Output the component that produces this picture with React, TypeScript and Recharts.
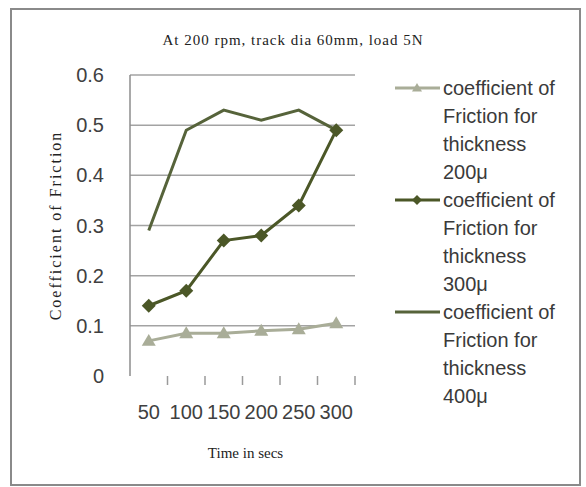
import React from 'react';
import { LineChart, Line, XAxis, YAxis, CartesianGrid, Legend, Label } from 'recharts';

const times = ['50', '100', '150', '200', '250', '300'];
const cof200 = [0.07, 0.085, 0.085, 0.09, 0.093, 0.105];
const cof300 = [0.14, 0.17, 0.27, 0.28, 0.34, 0.49];
const cof400 = [0.29, 0.49, 0.53, 0.51, 0.53, 0.49];
const yTicks = [0, 0.1, 0.2, 0.3, 0.4, 0.5, 0.6];
const gridValues = [0.1, 0.2, 0.3, 0.4, 0.5, 0.6];

const series = [
  { key: 'c200', name: 'coefficient of Friction for thickness 200μ', color: '#a9ad98', marker: 'triangle' },
  { key: 'c300', name: 'coefficient of Friction for thickness 300μ', color: '#4b5727', marker: 'diamond' },
  { key: 'c400', name: 'coefficient of Friction for thickness 400μ', color: '#56633a', marker: 'none' },
];

const data = times.map((t, i) => ({ time: t, c200: cof200[i], c300: cof300[i], c400: cof400[i] }));

const sans = '"Liberation Sans", Arial, sans-serif';
const serif = '"Liberation Serif", "Times New Roman", serif';

const TICK_SIZE = 9;
const TICK_MARGIN = 20;

const Marker = ({ cx, cy, type, color, r = 7 }: any) => {
  if (cx == null || cy == null) return null;
  if (type === 'triangle')
    return <polygon points={`${cx},${cy - r} ${cx + r},${cy + r * 0.7} ${cx - r},${cy + r * 0.7}`} fill={color} />;
  if (type === 'diamond')
    return <polygon points={`${cx},${cy - r} ${cx + r},${cy} ${cx},${cy + r} ${cx - r},${cy}`} fill={color} />;
  return null;
};

// excel style: label in the middle of the category, tick marks on the category boundaries
const CategoryTick = (props: any) => {
  const { x, y, payload, index, visibleTicksCount, width } = props;
  const half = Number(width) / visibleTicksCount / 2;
  const top = y - TICK_SIZE - TICK_MARGIN;
  const mark = (mx: number) => (
    <line x1={mx} y1={top} x2={mx} y2={top + TICK_SIZE} stroke="#9a9a9a" strokeWidth={1.5} />
  );
  return (
    <g>
      {index > 0 && mark(x - half)}
      {index === visibleTicksCount - 1 && mark(x + half)}
      <text x={x} y={y} dy={14} textAnchor="middle" fill="#404040" fontSize={20} fontFamily={sans}>
        {payload.value}
      </text>
    </g>
  );
};

const LegendBox = () => (
  <div style={{ fontFamily: sans, fontSize: 20, color: '#3a3a3a', lineHeight: '28px' }}>
    {series.map((s) => (
      <div key={s.key} style={{ display: 'flex', alignItems: 'flex-start' }}>
        <svg width={48} height={28} style={{ flex: 'none' }}>
          <line x1={0} y1={14} x2={45} y2={14} stroke={s.color} strokeWidth={3} />
          <Marker cx={22} cy={14} type={s.marker} color={s.color} r={5} />
        </svg>
        <div style={{ width: 130 }}>{s.name}</div>
      </div>
    ))}
  </div>
);

const YTitle = (props: any) => {
  const vb = props.viewBox || {};
  const cx = 55;
  const cy = vb.y + vb.height / 2;
  return (
    <text x={cx} y={cy} transform={`rotate(-90 ${cx} ${cy})`} textAnchor="middle" dominantBaseline="central"
      fontFamily={serif} fontSize={16} letterSpacing={2} fill="#222">
      Coefficient of Friction
    </text>
  );
};

const XTitle = (props: any) => {
  const vb = props.viewBox || {};
  return (
    <text x={vb.x + vb.width / 2 + 3} y={453} textAnchor="middle" dominantBaseline="central"
      fontFamily={serif} fontSize={15} fill="#222">
      Time in secs
    </text>
  );
};

export default function App() {
  return (
    <div style={{ position: 'absolute', left: 0, top: 0, width: 586, height: 487, background: '#fff' }}>
      <div style={{ position: 'absolute', left: 10, top: 8, width: 571, height: 478, border: '2px solid #8a8a8a', boxSizing: 'border-box', pointerEvents: 'none' }} />
      <div style={{ position: 'absolute', top: 32, left: 0, width: 586, textAlign: 'center', fontFamily: serif, fontSize: 15, letterSpacing: 1, color: '#222' }}>
        At 200 rpm, track dia 60mm, load 5N
      </div>
      <LineChart width={586} height={487} data={data} margin={{ top: 75, right: 231, bottom: 51, left: 0 }}>
        <CartesianGrid vertical={false} stroke="#a3a3a3" strokeWidth={1.5} horizontalValues={gridValues} />
        <XAxis dataKey="time" scale="band" height={60} axisLine={false} tickLine={false}
          tickSize={TICK_SIZE} tickMargin={TICK_MARGIN} tick={<CategoryTick />} interval={0}>
          <Label content={<XTitle />} />
        </XAxis>
        <YAxis width={130} domain={[0, 0.6]} ticks={yTicks} tickLine={false} tickSize={6} tickMargin={20}
          axisLine={{ stroke: '#8d8d8d', strokeWidth: 1.5 }}
          tick={{ fill: '#404040', fontSize: 20, fontFamily: sans }}>
          <Label content={<YTitle />} />
        </YAxis>
        <Legend layout="vertical" align="center" verticalAlign="middle" content={<LegendBox />}
          wrapperStyle={{ left: 395, top: 74, width: 185 }} />
        {series.map((s) => (
          <Line key={s.key} dataKey={s.key} name={s.name} stroke={s.color} strokeWidth={3}
            isAnimationActive={false}
            dot={s.marker === 'none' ? false : (p: any) => <Marker key={p.index} cx={p.cx} cy={p.cy} type={s.marker} color={s.color} />} />
        ))}
      </LineChart>
    </div>
  );
}
